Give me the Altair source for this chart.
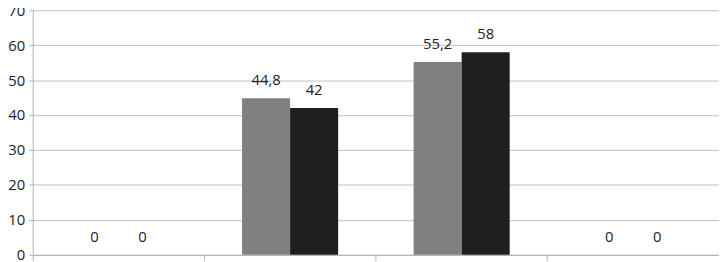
import altair as alt
import pandas as pd

categories = ["1", "2", "3", "4"]
series = ["Série 1", "Série 2"]
values_s1 = [0, 44.8, 55.2, 0]
values_s2 = [0, 42, 58, 0]
y_ticks = [0, 10, 20, 30, 40, 50, 60, 70]
colors = ["#808080", "#1f1f1f"]

rows = []
for i, c in enumerate(categories):
    rows.append({"cat": c, "serie": series[0], "value": values_s1[i]})
    rows.append({"cat": c, "serie": series[1], "value": values_s2[i]})
df = pd.DataFrame(rows)

x = alt.X("cat:N", sort=categories, title=None,
          scale=alt.Scale(paddingInner=0, paddingOuter=0),
          axis=alt.Axis(labels=False, bandPosition=0, tickSize=6, tickColor="#b0b0b0",
                        domainColor="#b0b0b0", grid=False, title=None))
xo = alt.XOffset("serie:N", sort=series,
                 scale=alt.Scale(paddingInner=0, paddingOuter=0.786))
y = alt.Y("value:Q", title=None,
          scale=alt.Scale(domain=[0, 70], nice=False),
          axis=alt.Axis(values=y_ticks, tickSize=4, labelPadding=4, tickColor="#b0b0b0",
                        domainColor="#b0b0b0", gridColor="#c0c0c0", labelFontSize=15,
                        labelColor="#222222", labelFont="Open Sans"))

bars = alt.Chart(df).mark_bar().encode(
    x=x, xOffset=xo, y=y,
    color=alt.Color("serie:N", sort=series, scale=alt.Scale(domain=series, range=colors), legend=None),
)

labels = alt.Chart(df).transform_calculate(
    label="replace(toString(datum.value), '.', ',')"
).mark_text(dy=-10, baseline="bottom", fontSize=15, font="Open Sans", color="#222222").encode(
    x=x, xOffset=xo, y=y, text="label:N"
)

chart = alt.layer(bars, labels).properties(
    width=693, height=247,
    autosize=alt.AutoSizeParams(type="none"),
    padding={"left": 25, "top": 1, "right": 0, "bottom": 6},
).configure_view(stroke=None)

chart.save("out.html", embed_options={"renderer": "svg", "actions": False})
